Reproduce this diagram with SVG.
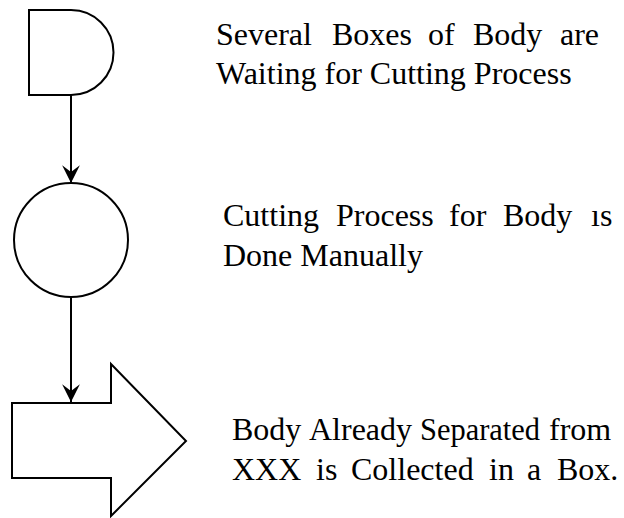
<svg xmlns="http://www.w3.org/2000/svg" width="624" height="518" viewBox="0 0 624 518">
  <style>
    .shape { fill: #ffffff; stroke: #000000; stroke-width: 2; stroke-linejoin: miter; }
    .link { fill: none; stroke: #000000; stroke-width: 2; }
    .label { font-family: "Liberation Serif", "Times New Roman", serif; font-size: 32px; fill: #000000; }
  </style>
  <defs>
    <marker id="head" markerUnits="userSpaceOnUse" markerWidth="20" markerHeight="20" viewBox="-17 -9 18 18" refX="0" refY="0" orient="auto">
      <path d="M0,0 L-16,-8 L-10,0 L-16,8 Z" fill="#000000"/>
    </marker>
  </defs>

  <rect width="624" height="518" fill="#ffffff"/>

  <!-- connectors -->
  <g id="connectors">
    <line class="link" x1="71" y1="95" x2="71" y2="183" marker-end="url(#head)"/>
    <line class="link" x1="71" y1="297" x2="71" y2="402" marker-end="url(#head)"/>
  </g>

  <!-- delay: boxes waiting -->
  <g id="node-delay">
    <path class="shape" d="M29,10 H71 A42.5,42.5 0 0 1 71,95 H29 Z"/>
    <text class="label" y="44.5">
      <tspan x="216">Several</tspan><tspan x="332">Boxes</tspan><tspan x="428">of</tspan><tspan x="473">Body</tspan><tspan x="560">are</tspan>
    </text>
    <text class="label" x="216" y="83.5">Waiting for Cutting Process</text>
  </g>

  <!-- operation: manual cutting -->
  <g id="node-operation">
    <circle class="shape" cx="71" cy="240" r="57"/>
    <text class="label" y="226">
      <tspan x="223">Cutting</tspan><tspan x="336">Process</tspan><tspan x="449">for</tspan><tspan x="503">Body</tspan><tspan x="591">ıs</tspan>
    </text>
    <text class="label" x="223" y="266">Done Manually</text>
  </g>

  <!-- transport: collected in a box -->
  <g id="node-transport">
    <polygon class="shape" points="12,403 111,403 111,364 186,441 111,516 111,478 12,478"/>
    <text class="label" y="440">
      <tspan x="232">Body</tspan><tspan x="309">Already</tspan><tspan x="420" textLength="120" lengthAdjust="spacingAndGlyphs">Separated</tspan><tspan x="549">from</tspan>
    </text>
    <text class="label" y="479.5">
      <tspan x="232">XXX</tspan><tspan x="316">is</tspan><tspan x="351">Collected</tspan><tspan x="489">in</tspan><tspan x="527">a</tspan><tspan x="557">Box.</tspan>
    </text>
  </g>
</svg>
